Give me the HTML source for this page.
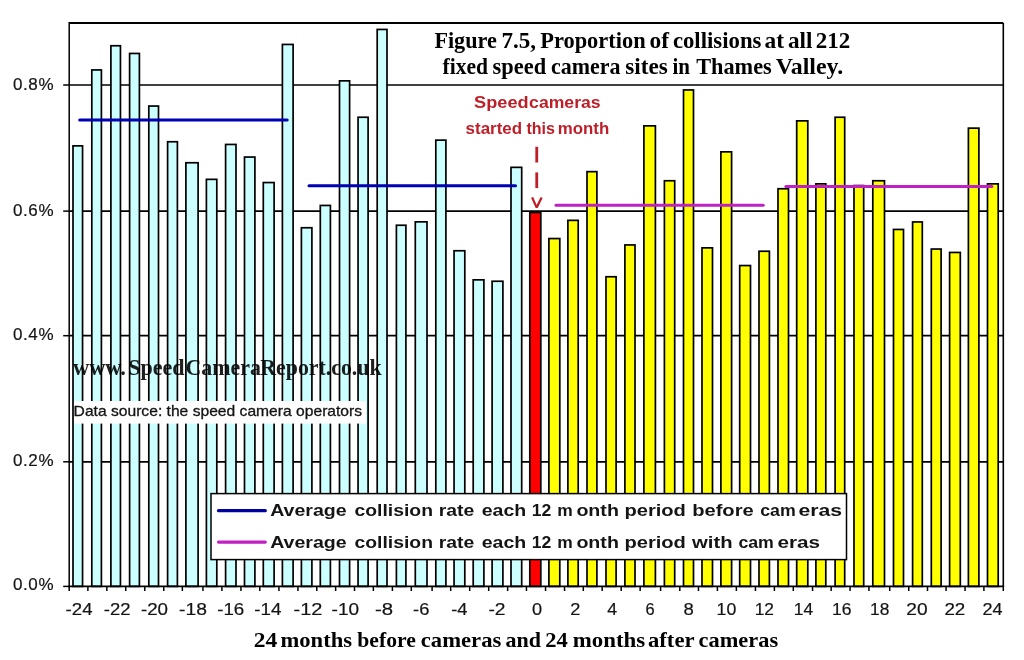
<!DOCTYPE html><html><head><meta charset="utf-8"><style>html,body{margin:0;padding:0;background:#fff;width:1024px;height:660px;overflow:hidden}svg{display:block;will-change:transform}</style></head><body>
<svg width="1024" height="660" viewBox="0 0 1024 660">
<rect x="0" y="0" width="1024" height="660" fill="#fff"/>
<line x1="69.2" y1="461.8" x2="1003.3" y2="461.8" stroke="#000" stroke-width="1.7"/>
<line x1="69.2" y1="335.7" x2="1003.3" y2="335.7" stroke="#000" stroke-width="1.7"/>
<line x1="69.2" y1="211.1" x2="1003.3" y2="211.1" stroke="#000" stroke-width="1.7"/>
<line x1="69.2" y1="85.0" x2="1003.3" y2="85.0" stroke="#000" stroke-width="1.7"/>
<rect x="73.00" y="145.85" width="9.55" height="440.55" fill="#ccffff" stroke="#000" stroke-width="1.7"/>
<rect x="91.80" y="69.95" width="9.60" height="516.45" fill="#ccffff" stroke="#000" stroke-width="1.7"/>
<rect x="110.90" y="45.75" width="9.55" height="540.65" fill="#ccffff" stroke="#000" stroke-width="1.7"/>
<rect x="129.60" y="53.45" width="9.80" height="532.95" fill="#ccffff" stroke="#000" stroke-width="1.7"/>
<rect x="148.80" y="106.05" width="9.70" height="480.35" fill="#ccffff" stroke="#000" stroke-width="1.7"/>
<rect x="167.60" y="141.75" width="9.80" height="444.65" fill="#ccffff" stroke="#000" stroke-width="1.7"/>
<rect x="185.90" y="162.75" width="12.20" height="423.65" fill="#ccffff" stroke="#000" stroke-width="1.7"/>
<rect x="206.40" y="179.35" width="10.40" height="407.05" fill="#ccffff" stroke="#000" stroke-width="1.7"/>
<rect x="225.60" y="144.45" width="10.40" height="441.95" fill="#ccffff" stroke="#000" stroke-width="1.7"/>
<rect x="244.50" y="157.05" width="10.40" height="429.35" fill="#ccffff" stroke="#000" stroke-width="1.7"/>
<rect x="263.30" y="182.55" width="10.80" height="403.85" fill="#ccffff" stroke="#000" stroke-width="1.7"/>
<rect x="282.40" y="44.45" width="10.70" height="541.95" fill="#ccffff" stroke="#000" stroke-width="1.7"/>
<rect x="301.40" y="227.75" width="10.50" height="358.65" fill="#ccffff" stroke="#000" stroke-width="1.7"/>
<rect x="320.30" y="205.45" width="10.10" height="380.95" fill="#ccffff" stroke="#000" stroke-width="1.7"/>
<rect x="339.50" y="80.85" width="10.10" height="505.55" fill="#ccffff" stroke="#000" stroke-width="1.7"/>
<rect x="358.05" y="117.25" width="10.05" height="469.15" fill="#ccffff" stroke="#000" stroke-width="1.7"/>
<rect x="377.20" y="29.45" width="9.80" height="556.95" fill="#ccffff" stroke="#000" stroke-width="1.7"/>
<rect x="396.40" y="225.25" width="9.50" height="361.15" fill="#ccffff" stroke="#000" stroke-width="1.7"/>
<rect x="415.30" y="221.85" width="11.70" height="364.55" fill="#ccffff" stroke="#000" stroke-width="1.7"/>
<rect x="435.80" y="140.15" width="10.10" height="446.25" fill="#ccffff" stroke="#000" stroke-width="1.7"/>
<rect x="454.05" y="250.75" width="10.75" height="335.65" fill="#ccffff" stroke="#000" stroke-width="1.7"/>
<rect x="473.20" y="279.85" width="10.70" height="306.55" fill="#ccffff" stroke="#000" stroke-width="1.7"/>
<rect x="492.10" y="281.25" width="10.80" height="305.15" fill="#ccffff" stroke="#000" stroke-width="1.7"/>
<rect x="511.00" y="167.35" width="10.70" height="419.05" fill="#ccffff" stroke="#000" stroke-width="1.7"/>
<rect x="529.80" y="212.45" width="11.00" height="373.95" fill="#ff0000" stroke="#000" stroke-width="1.7"/>
<rect x="548.90" y="238.55" width="10.90" height="347.85" fill="#ffff00" stroke="#000" stroke-width="1.7"/>
<rect x="567.90" y="220.35" width="10.30" height="366.05" fill="#ffff00" stroke="#000" stroke-width="1.7"/>
<rect x="587.00" y="171.65" width="9.90" height="414.75" fill="#ffff00" stroke="#000" stroke-width="1.7"/>
<rect x="606.00" y="276.75" width="10.10" height="309.65" fill="#ffff00" stroke="#000" stroke-width="1.7"/>
<rect x="624.90" y="244.95" width="10.10" height="341.45" fill="#ffff00" stroke="#000" stroke-width="1.7"/>
<rect x="643.90" y="125.85" width="11.50" height="460.55" fill="#ffff00" stroke="#000" stroke-width="1.7"/>
<rect x="664.40" y="180.75" width="10.30" height="405.65" fill="#ffff00" stroke="#000" stroke-width="1.7"/>
<rect x="683.50" y="89.95" width="10.00" height="496.45" fill="#ffff00" stroke="#000" stroke-width="1.7"/>
<rect x="702.00" y="247.85" width="10.50" height="338.55" fill="#ffff00" stroke="#000" stroke-width="1.7"/>
<rect x="720.90" y="151.85" width="10.70" height="434.55" fill="#ffff00" stroke="#000" stroke-width="1.7"/>
<rect x="739.70" y="265.55" width="10.80" height="320.85" fill="#ffff00" stroke="#000" stroke-width="1.7"/>
<rect x="759.00" y="251.25" width="10.40" height="335.15" fill="#ffff00" stroke="#000" stroke-width="1.7"/>
<rect x="778.00" y="188.75" width="10.50" height="397.65" fill="#ffff00" stroke="#000" stroke-width="1.7"/>
<rect x="796.70" y="120.85" width="11.10" height="465.55" fill="#ffff00" stroke="#000" stroke-width="1.7"/>
<rect x="815.90" y="183.85" width="9.90" height="402.55" fill="#ffff00" stroke="#000" stroke-width="1.7"/>
<rect x="835.10" y="117.25" width="9.60" height="469.15" fill="#ffff00" stroke="#000" stroke-width="1.7"/>
<rect x="854.00" y="185.55" width="9.70" height="400.85" fill="#ffff00" stroke="#000" stroke-width="1.7"/>
<rect x="872.80" y="180.75" width="11.70" height="405.65" fill="#ffff00" stroke="#000" stroke-width="1.7"/>
<rect x="893.50" y="229.45" width="10.00" height="356.95" fill="#ffff00" stroke="#000" stroke-width="1.7"/>
<rect x="912.60" y="221.95" width="9.70" height="364.45" fill="#ffff00" stroke="#000" stroke-width="1.7"/>
<rect x="931.30" y="249.05" width="9.80" height="337.35" fill="#ffff00" stroke="#000" stroke-width="1.7"/>
<rect x="949.60" y="252.45" width="10.70" height="333.95" fill="#ffff00" stroke="#000" stroke-width="1.7"/>
<rect x="968.40" y="128.15" width="10.50" height="458.25" fill="#ffff00" stroke="#000" stroke-width="1.7"/>
<rect x="987.50" y="183.85" width="10.70" height="402.55" fill="#ffff00" stroke="#000" stroke-width="1.7"/>
<line x1="69.2" y1="23.0" x2="1003.3" y2="23.0" stroke="#000" stroke-width="2"/>
<line x1="1003.3" y1="23.0" x2="1003.3" y2="586.4" stroke="#000" stroke-width="1.6"/>
<line x1="69.2" y1="22.0" x2="69.2" y2="587.3" stroke="#000" stroke-width="1.5"/>
<line x1="68.45" y1="586.4" x2="1004.0999999999999" y2="586.4" stroke="#000" stroke-width="1.6"/>
<line x1="63.2" y1="85.0" x2="69.2" y2="85.0" stroke="#000" stroke-width="1.5"/>
<line x1="63.2" y1="211.1" x2="69.2" y2="211.1" stroke="#000" stroke-width="1.5"/>
<line x1="63.2" y1="335.7" x2="69.2" y2="335.7" stroke="#000" stroke-width="1.5"/>
<line x1="63.2" y1="461.8" x2="69.2" y2="461.8" stroke="#000" stroke-width="1.5"/>
<line x1="63.2" y1="586.4" x2="69.2" y2="586.4" stroke="#000" stroke-width="1.5"/>
<line x1="69.20" y1="586.4" x2="69.20" y2="591" stroke="#000" stroke-width="1.5"/>
<line x1="87.88" y1="586.4" x2="87.88" y2="591" stroke="#000" stroke-width="1.5"/>
<line x1="106.85" y1="586.4" x2="106.85" y2="591" stroke="#000" stroke-width="1.5"/>
<line x1="125.73" y1="586.4" x2="125.73" y2="591" stroke="#000" stroke-width="1.5"/>
<line x1="144.80" y1="586.4" x2="144.80" y2="591" stroke="#000" stroke-width="1.5"/>
<line x1="163.75" y1="586.4" x2="163.75" y2="591" stroke="#000" stroke-width="1.5"/>
<line x1="182.35" y1="586.4" x2="182.35" y2="591" stroke="#000" stroke-width="1.5"/>
<line x1="202.95" y1="586.4" x2="202.95" y2="591" stroke="#000" stroke-width="1.5"/>
<line x1="221.90" y1="586.4" x2="221.90" y2="591" stroke="#000" stroke-width="1.5"/>
<line x1="240.95" y1="586.4" x2="240.95" y2="591" stroke="#000" stroke-width="1.5"/>
<line x1="259.80" y1="586.4" x2="259.80" y2="591" stroke="#000" stroke-width="1.5"/>
<line x1="278.95" y1="586.4" x2="278.95" y2="591" stroke="#000" stroke-width="1.5"/>
<line x1="297.95" y1="586.4" x2="297.95" y2="591" stroke="#000" stroke-width="1.5"/>
<line x1="316.80" y1="586.4" x2="316.80" y2="591" stroke="#000" stroke-width="1.5"/>
<line x1="335.65" y1="586.4" x2="335.65" y2="591" stroke="#000" stroke-width="1.5"/>
<line x1="354.53" y1="586.4" x2="354.53" y2="591" stroke="#000" stroke-width="1.5"/>
<line x1="373.35" y1="586.4" x2="373.35" y2="591" stroke="#000" stroke-width="1.5"/>
<line x1="392.40" y1="586.4" x2="392.40" y2="591" stroke="#000" stroke-width="1.5"/>
<line x1="411.30" y1="586.4" x2="411.30" y2="591" stroke="#000" stroke-width="1.5"/>
<line x1="432.10" y1="586.4" x2="432.10" y2="591" stroke="#000" stroke-width="1.5"/>
<line x1="450.68" y1="586.4" x2="450.68" y2="591" stroke="#000" stroke-width="1.5"/>
<line x1="469.70" y1="586.4" x2="469.70" y2="591" stroke="#000" stroke-width="1.5"/>
<line x1="488.70" y1="586.4" x2="488.70" y2="591" stroke="#000" stroke-width="1.5"/>
<line x1="507.65" y1="586.4" x2="507.65" y2="591" stroke="#000" stroke-width="1.5"/>
<line x1="526.45" y1="586.4" x2="526.45" y2="591" stroke="#000" stroke-width="1.5"/>
<line x1="545.55" y1="586.4" x2="545.55" y2="591" stroke="#000" stroke-width="1.5"/>
<line x1="564.55" y1="586.4" x2="564.55" y2="591" stroke="#000" stroke-width="1.5"/>
<line x1="583.30" y1="586.4" x2="583.30" y2="591" stroke="#000" stroke-width="1.5"/>
<line x1="602.15" y1="586.4" x2="602.15" y2="591" stroke="#000" stroke-width="1.5"/>
<line x1="621.20" y1="586.4" x2="621.20" y2="591" stroke="#000" stroke-width="1.5"/>
<line x1="640.15" y1="586.4" x2="640.15" y2="591" stroke="#000" stroke-width="1.5"/>
<line x1="660.60" y1="586.4" x2="660.60" y2="591" stroke="#000" stroke-width="1.5"/>
<line x1="679.80" y1="586.4" x2="679.80" y2="591" stroke="#000" stroke-width="1.5"/>
<line x1="698.45" y1="586.4" x2="698.45" y2="591" stroke="#000" stroke-width="1.5"/>
<line x1="717.40" y1="586.4" x2="717.40" y2="591" stroke="#000" stroke-width="1.5"/>
<line x1="736.35" y1="586.4" x2="736.35" y2="591" stroke="#000" stroke-width="1.5"/>
<line x1="755.45" y1="586.4" x2="755.45" y2="591" stroke="#000" stroke-width="1.5"/>
<line x1="774.40" y1="586.4" x2="774.40" y2="591" stroke="#000" stroke-width="1.5"/>
<line x1="793.30" y1="586.4" x2="793.30" y2="591" stroke="#000" stroke-width="1.5"/>
<line x1="812.55" y1="586.4" x2="812.55" y2="591" stroke="#000" stroke-width="1.5"/>
<line x1="831.15" y1="586.4" x2="831.15" y2="591" stroke="#000" stroke-width="1.5"/>
<line x1="850.05" y1="586.4" x2="850.05" y2="591" stroke="#000" stroke-width="1.5"/>
<line x1="868.95" y1="586.4" x2="868.95" y2="591" stroke="#000" stroke-width="1.5"/>
<line x1="889.70" y1="586.4" x2="889.70" y2="591" stroke="#000" stroke-width="1.5"/>
<line x1="908.75" y1="586.4" x2="908.75" y2="591" stroke="#000" stroke-width="1.5"/>
<line x1="927.50" y1="586.4" x2="927.50" y2="591" stroke="#000" stroke-width="1.5"/>
<line x1="946.05" y1="586.4" x2="946.05" y2="591" stroke="#000" stroke-width="1.5"/>
<line x1="965.05" y1="586.4" x2="965.05" y2="591" stroke="#000" stroke-width="1.5"/>
<line x1="983.90" y1="586.4" x2="983.90" y2="591" stroke="#000" stroke-width="1.5"/>
<line x1="1003.30" y1="586.4" x2="1003.30" y2="591" stroke="#000" stroke-width="1.5"/>
<line x1="79.7" y1="120.1" x2="287.2" y2="120.1" stroke="#0000b4" stroke-width="3" stroke-linecap="round"/>
<line x1="309" y1="185.7" x2="515.5" y2="185.7" stroke="#0000b4" stroke-width="3" stroke-linecap="round"/>
<line x1="556" y1="205.2" x2="763.2" y2="205.2" stroke="#c020c4" stroke-width="3" stroke-linecap="round"/>
<line x1="785.9" y1="186.4" x2="991.9" y2="186.4" stroke="#c020c4" stroke-width="3" stroke-linecap="round"/>
<rect x="535.35" y="146.8" width="2.8" height="15.7" fill="#be1e28"/>
<rect x="535.35" y="172.4" width="2.8" height="15.7" fill="#be1e28"/>
<path d="M532.1 197.4 L536.7 207.6 L541.6 197.4" fill="none" stroke="#be1e28" stroke-width="2.3" stroke-linejoin="bevel"/>
<rect x="74" y="401" width="292" height="22.6" fill="#fff"/>
<rect x="211" y="493.6" width="635.5" height="66" fill="#fff" stroke="#000" stroke-width="1.5"/>
<line x1="218.5" y1="510.7" x2="265.3" y2="510.7" stroke="#00009c" stroke-width="3.2" stroke-linecap="round"/>
<line x1="218.5" y1="542.1" x2="265.3" y2="542.1" stroke="#c020c4" stroke-width="3.2" stroke-linecap="round"/>
<text x="73.60" y="415.6" font-family='"Liberation Sans", sans-serif' font-weight="normal" font-size="14.4" fill="#141414" textLength="288.50" lengthAdjust="spacingAndGlyphs" stroke="#141414" stroke-width="0.3">Data source: the speed camera operators</text>
<text x="434.40" y="48.0" font-family='"Liberation Serif", serif' font-weight="bold" font-size="22.6" fill="#000" textLength="62.50" lengthAdjust="spacingAndGlyphs">Figure</text>
<text x="501.50" y="48.0" font-family='"Liberation Serif", serif' font-weight="bold" font-size="22.6" fill="#000" textLength="34.50" lengthAdjust="spacingAndGlyphs">7.5,</text>
<text x="540.20" y="48.0" font-family='"Liberation Serif", serif' font-weight="bold" font-size="22.6" fill="#000" textLength="105.50" lengthAdjust="spacingAndGlyphs">Proportion</text>
<text x="649.50" y="48.0" font-family='"Liberation Serif", serif' font-weight="bold" font-size="22.6" fill="#000" textLength="19.50" lengthAdjust="spacingAndGlyphs">of</text>
<text x="672.90" y="48.0" font-family='"Liberation Serif", serif' font-weight="bold" font-size="22.6" fill="#000" textLength="88.50" lengthAdjust="spacingAndGlyphs">collisions</text>
<text x="764.50" y="48.0" font-family='"Liberation Serif", serif' font-weight="bold" font-size="22.6" fill="#000" textLength="19.50" lengthAdjust="spacingAndGlyphs">at</text>
<text x="788.00" y="48.0" font-family='"Liberation Serif", serif' font-weight="bold" font-size="22.6" fill="#000" textLength="24.50" lengthAdjust="spacingAndGlyphs">all</text>
<text x="815.70" y="48.0" font-family='"Liberation Serif", serif' font-weight="bold" font-size="22.6" fill="#000" textLength="34.50" lengthAdjust="spacingAndGlyphs">212</text>
<text x="442.60" y="73.7" font-family='"Liberation Serif", serif' font-weight="bold" font-size="22.6" fill="#000" textLength="45.50" lengthAdjust="spacingAndGlyphs">fixed</text>
<text x="492.60" y="73.7" font-family='"Liberation Serif", serif' font-weight="bold" font-size="22.6" fill="#000" textLength="53.50" lengthAdjust="spacingAndGlyphs">speed</text>
<text x="551.10" y="73.7" font-family='"Liberation Serif", serif' font-weight="bold" font-size="22.6" fill="#000" textLength="69.50" lengthAdjust="spacingAndGlyphs">camera</text>
<text x="625.30" y="73.7" font-family='"Liberation Serif", serif' font-weight="bold" font-size="22.6" fill="#000" textLength="42.50" lengthAdjust="spacingAndGlyphs">sites</text>
<text x="672.50" y="73.7" font-family='"Liberation Serif", serif' font-weight="bold" font-size="22.6" fill="#000" textLength="17.50" lengthAdjust="spacingAndGlyphs">in</text>
<text x="696.20" y="73.7" font-family='"Liberation Serif", serif' font-weight="bold" font-size="22.6" fill="#000" textLength="75.50" lengthAdjust="spacingAndGlyphs">Thames</text>
<text x="775.70" y="73.7" font-family='"Liberation Serif", serif' font-weight="bold" font-size="22.6" fill="#000" textLength="67.50" lengthAdjust="spacingAndGlyphs">Valley.</text>
<text x="253.70" y="646.6" font-family='"Liberation Serif", serif' font-weight="bold" font-size="21.8" fill="#000" textLength="23.50" lengthAdjust="spacingAndGlyphs">24</text>
<text x="280.50" y="646.6" font-family='"Liberation Serif", serif' font-weight="bold" font-size="21.8" fill="#000" textLength="71.50" lengthAdjust="spacingAndGlyphs">months</text>
<text x="357.30" y="646.6" font-family='"Liberation Serif", serif' font-weight="bold" font-size="21.8" fill="#000" textLength="58.50" lengthAdjust="spacingAndGlyphs">before</text>
<text x="420.80" y="646.6" font-family='"Liberation Serif", serif' font-weight="bold" font-size="21.8" fill="#000" textLength="80.50" lengthAdjust="spacingAndGlyphs">cameras</text>
<text x="505.40" y="646.6" font-family='"Liberation Serif", serif' font-weight="bold" font-size="21.8" fill="#000" textLength="35.50" lengthAdjust="spacingAndGlyphs">and</text>
<text x="545.20" y="646.6" font-family='"Liberation Serif", serif' font-weight="bold" font-size="21.8" fill="#000" textLength="22.50" lengthAdjust="spacingAndGlyphs">24</text>
<text x="572.70" y="646.6" font-family='"Liberation Serif", serif' font-weight="bold" font-size="21.8" fill="#000" textLength="72.50" lengthAdjust="spacingAndGlyphs">months</text>
<text x="648.00" y="646.6" font-family='"Liberation Serif", serif' font-weight="bold" font-size="21.8" fill="#000" textLength="46.50" lengthAdjust="spacingAndGlyphs">after</text>
<text x="698.60" y="646.6" font-family='"Liberation Serif", serif' font-weight="bold" font-size="21.8" fill="#000" textLength="79.50" lengthAdjust="spacingAndGlyphs">cameras</text>
<text x="72.90" y="374.6" font-family='"Liberation Serif", serif' font-weight="bold" font-size="23" fill="#000" textLength="53.10" lengthAdjust="spacingAndGlyphs" fill-opacity="0.88">www.</text>
<text x="128.20" y="374.6" font-family='"Liberation Serif", serif' font-weight="bold" font-size="23" fill="#000" textLength="56.30" lengthAdjust="spacingAndGlyphs" fill-opacity="0.88">Speed</text>
<text x="185.40" y="374.6" font-family='"Liberation Serif", serif' font-weight="bold" font-size="23" fill="#000" textLength="75.50" lengthAdjust="spacingAndGlyphs" fill-opacity="0.88">Camera</text>
<text x="260.30" y="374.6" font-family='"Liberation Serif", serif' font-weight="bold" font-size="23" fill="#000" textLength="121.30" lengthAdjust="spacingAndGlyphs" fill-opacity="0.88">Report.co.uk</text>
<text x="474.10" y="108.1" font-family='"Liberation Sans", sans-serif' font-weight="bold" font-size="16" fill="#be1e28" textLength="54.50" lengthAdjust="spacingAndGlyphs">Speed</text>
<text x="529.10" y="108.1" font-family='"Liberation Sans", sans-serif' font-weight="bold" font-size="16" fill="#be1e28" textLength="71.50" lengthAdjust="spacingAndGlyphs">cameras</text>
<text x="465.60" y="133.9" font-family='"Liberation Sans", sans-serif' font-weight="bold" font-size="16" fill="#be1e28" textLength="56.50" lengthAdjust="spacingAndGlyphs">started</text>
<text x="526.40" y="133.9" font-family='"Liberation Sans", sans-serif' font-weight="bold" font-size="16" fill="#be1e28" textLength="28.50" lengthAdjust="spacingAndGlyphs">this</text>
<text x="557.75" y="133.9" font-family='"Liberation Sans", sans-serif' font-weight="bold" font-size="16" fill="#be1e28" textLength="51.50" lengthAdjust="spacingAndGlyphs">month</text>
<text x="270.20" y="516.3" font-family='"Liberation Sans", sans-serif' font-weight="bold" font-size="16" fill="#141414" textLength="76.50" lengthAdjust="spacingAndGlyphs">Average</text>
<text x="354.50" y="516.3" font-family='"Liberation Sans", sans-serif' font-weight="bold" font-size="16" fill="#141414" textLength="78.50" lengthAdjust="spacingAndGlyphs">collision</text>
<text x="438.70" y="516.3" font-family='"Liberation Sans", sans-serif' font-weight="bold" font-size="16" fill="#141414" textLength="35.50" lengthAdjust="spacingAndGlyphs">rate</text>
<text x="481.70" y="516.3" font-family='"Liberation Sans", sans-serif' font-weight="bold" font-size="16" fill="#141414" textLength="44.50" lengthAdjust="spacingAndGlyphs">each</text>
<text x="531.80" y="516.3" font-family='"Liberation Sans", sans-serif' font-weight="bold" font-size="16" fill="#141414" textLength="19.50" lengthAdjust="spacingAndGlyphs">12</text>
<text x="557.30" y="516.3" font-family='"Liberation Sans", sans-serif' font-weight="bold" font-size="16" fill="#141414" textLength="15.50" lengthAdjust="spacingAndGlyphs">m</text>
<text x="576.40" y="516.3" font-family='"Liberation Sans", sans-serif' font-weight="bold" font-size="16" fill="#141414" textLength="42.50" lengthAdjust="spacingAndGlyphs">onth</text>
<text x="624.40" y="516.3" font-family='"Liberation Sans", sans-serif' font-weight="bold" font-size="16" fill="#141414" textLength="61.50" lengthAdjust="spacingAndGlyphs">period</text>
<text x="692.20" y="516.3" font-family='"Liberation Sans", sans-serif' font-weight="bold" font-size="16" fill="#141414" textLength="61.50" lengthAdjust="spacingAndGlyphs">before</text>
<text x="760.20" y="516.3" font-family='"Liberation Sans", sans-serif' font-weight="bold" font-size="16" fill="#141414" textLength="35.50" lengthAdjust="spacingAndGlyphs">cam</text>
<text x="798.50" y="516.3" font-family='"Liberation Sans", sans-serif' font-weight="bold" font-size="16" fill="#141414" textLength="43.50" lengthAdjust="spacingAndGlyphs">eras</text>
<text x="270.20" y="547.9" font-family='"Liberation Sans", sans-serif' font-weight="bold" font-size="16" fill="#141414" textLength="76.50" lengthAdjust="spacingAndGlyphs">Average</text>
<text x="354.50" y="547.9" font-family='"Liberation Sans", sans-serif' font-weight="bold" font-size="16" fill="#141414" textLength="78.50" lengthAdjust="spacingAndGlyphs">collision</text>
<text x="438.70" y="547.9" font-family='"Liberation Sans", sans-serif' font-weight="bold" font-size="16" fill="#141414" textLength="35.50" lengthAdjust="spacingAndGlyphs">rate</text>
<text x="481.70" y="547.9" font-family='"Liberation Sans", sans-serif' font-weight="bold" font-size="16" fill="#141414" textLength="44.50" lengthAdjust="spacingAndGlyphs">each</text>
<text x="531.80" y="547.9" font-family='"Liberation Sans", sans-serif' font-weight="bold" font-size="16" fill="#141414" textLength="19.50" lengthAdjust="spacingAndGlyphs">12</text>
<text x="557.30" y="547.9" font-family='"Liberation Sans", sans-serif' font-weight="bold" font-size="16" fill="#141414" textLength="15.50" lengthAdjust="spacingAndGlyphs">m</text>
<text x="576.40" y="547.9" font-family='"Liberation Sans", sans-serif' font-weight="bold" font-size="16" fill="#141414" textLength="42.50" lengthAdjust="spacingAndGlyphs">onth</text>
<text x="624.40" y="547.9" font-family='"Liberation Sans", sans-serif' font-weight="bold" font-size="16" fill="#141414" textLength="61.50" lengthAdjust="spacingAndGlyphs">period</text>
<text x="692.10" y="547.9" font-family='"Liberation Sans", sans-serif' font-weight="bold" font-size="16" fill="#141414" textLength="40.50" lengthAdjust="spacingAndGlyphs">with</text>
<text x="738.40" y="547.9" font-family='"Liberation Sans", sans-serif' font-weight="bold" font-size="16" fill="#141414" textLength="35.50" lengthAdjust="spacingAndGlyphs">cam</text>
<text x="777.40" y="547.9" font-family='"Liberation Sans", sans-serif' font-weight="bold" font-size="16" fill="#141414" textLength="42.50" lengthAdjust="spacingAndGlyphs">eras</text>
<text x="13.00" y="590.4" font-family='"Liberation Sans", sans-serif' font-weight="normal" font-size="17" fill="#141414" textLength="40.50" lengthAdjust="spacing" stroke="#141414" stroke-width="0.2">0.0%</text>
<text x="13.00" y="466.0" font-family='"Liberation Sans", sans-serif' font-weight="normal" font-size="17" fill="#141414" textLength="40.50" lengthAdjust="spacing" stroke="#141414" stroke-width="0.2">0.2%</text>
<text x="13.00" y="340.4" font-family='"Liberation Sans", sans-serif' font-weight="normal" font-size="17" fill="#141414" textLength="40.50" lengthAdjust="spacing" stroke="#141414" stroke-width="0.2">0.4%</text>
<text x="13.00" y="216.29999999999998" font-family='"Liberation Sans", sans-serif' font-weight="normal" font-size="17" fill="#141414" textLength="40.50" lengthAdjust="spacing" stroke="#141414" stroke-width="0.2">0.6%</text>
<text x="13.00" y="90.0" font-family='"Liberation Sans", sans-serif' font-weight="normal" font-size="17" fill="#141414" textLength="40.50" lengthAdjust="spacing" stroke="#141414" stroke-width="0.2">0.8%</text>
<text x="65.64" y="615.4" font-family='"Liberation Sans", sans-serif' font-weight="normal" font-size="16.6" fill="#141414" textLength="26.90" lengthAdjust="spacingAndGlyphs" stroke="#141414" stroke-width="0.2">-24</text>
<text x="103.78" y="615.4" font-family='"Liberation Sans", sans-serif' font-weight="normal" font-size="16.6" fill="#141414" textLength="26.70" lengthAdjust="spacingAndGlyphs" stroke="#141414" stroke-width="0.2">-22</text>
<text x="140.92" y="615.4" font-family='"Liberation Sans", sans-serif' font-weight="normal" font-size="16.6" fill="#141414" textLength="27.10" lengthAdjust="spacingAndGlyphs" stroke="#141414" stroke-width="0.2">-20</text>
<text x="179.06" y="615.4" font-family='"Liberation Sans", sans-serif' font-weight="normal" font-size="16.6" fill="#141414" textLength="27.90" lengthAdjust="spacingAndGlyphs" stroke="#141414" stroke-width="0.2">-18</text>
<text x="217.21" y="615.4" font-family='"Liberation Sans", sans-serif' font-weight="normal" font-size="16.6" fill="#141414" textLength="27.10" lengthAdjust="spacingAndGlyphs" stroke="#141414" stroke-width="0.2">-16</text>
<text x="254.35" y="615.4" font-family='"Liberation Sans", sans-serif' font-weight="normal" font-size="16.6" fill="#141414" textLength="27.10" lengthAdjust="spacingAndGlyphs" stroke="#141414" stroke-width="0.2">-14</text>
<text x="293.49" y="615.4" font-family='"Liberation Sans", sans-serif' font-weight="normal" font-size="16.6" fill="#141414" textLength="28.90" lengthAdjust="spacingAndGlyphs" stroke="#141414" stroke-width="0.2">-12</text>
<text x="331.64" y="615.4" font-family='"Liberation Sans", sans-serif' font-weight="normal" font-size="16.6" fill="#141414" textLength="27.50" lengthAdjust="spacingAndGlyphs" stroke="#141414" stroke-width="0.2">-10</text>
<text x="374.98" y="615.4" font-family='"Liberation Sans", sans-serif' font-weight="normal" font-size="16.6" fill="#141414" textLength="18.10" lengthAdjust="spacingAndGlyphs" stroke="#141414" stroke-width="0.2">-8</text>
<text x="413.12" y="615.4" font-family='"Liberation Sans", sans-serif' font-weight="normal" font-size="16.6" fill="#141414" textLength="16.30" lengthAdjust="spacingAndGlyphs" stroke="#141414" stroke-width="0.2">-6</text>
<text x="451.26" y="615.4" font-family='"Liberation Sans", sans-serif' font-weight="normal" font-size="16.6" fill="#141414" textLength="16.30" lengthAdjust="spacingAndGlyphs" stroke="#141414" stroke-width="0.2">-4</text>
<text x="488.41" y="615.4" font-family='"Liberation Sans", sans-serif' font-weight="normal" font-size="16.6" fill="#141414" textLength="17.10" lengthAdjust="spacingAndGlyphs" stroke="#141414" stroke-width="0.2">-2</text>
<text x="532.05" y="615.4" font-family='"Liberation Sans", sans-serif' font-weight="normal" font-size="16.6" fill="#141414" textLength="10.10" lengthAdjust="spacingAndGlyphs" stroke="#141414" stroke-width="0.2">0</text>
<text x="570.19" y="615.4" font-family='"Liberation Sans", sans-serif' font-weight="normal" font-size="16.6" fill="#141414" textLength="10.10" lengthAdjust="spacingAndGlyphs" stroke="#141414" stroke-width="0.2">2</text>
<text x="607.34" y="615.4" font-family='"Liberation Sans", sans-serif' font-weight="normal" font-size="16.6" fill="#141414" textLength="9.90" lengthAdjust="spacingAndGlyphs" stroke="#141414" stroke-width="0.2">4</text>
<text x="645.48" y="615.4" font-family='"Liberation Sans", sans-serif' font-weight="normal" font-size="16.6" fill="#141414" textLength="9.10" lengthAdjust="spacingAndGlyphs" stroke="#141414" stroke-width="0.2">6</text>
<text x="683.62" y="615.4" font-family='"Liberation Sans", sans-serif' font-weight="normal" font-size="16.6" fill="#141414" textLength="10.30" lengthAdjust="spacingAndGlyphs" stroke="#141414" stroke-width="0.2">8</text>
<text x="716.56" y="615.4" font-family='"Liberation Sans", sans-serif' font-weight="normal" font-size="16.6" fill="#141414" textLength="19.70" lengthAdjust="spacingAndGlyphs" stroke="#141414" stroke-width="0.2">10</text>
<text x="754.71" y="615.4" font-family='"Liberation Sans", sans-serif' font-weight="normal" font-size="16.6" fill="#141414" textLength="19.30" lengthAdjust="spacingAndGlyphs" stroke="#141414" stroke-width="0.2">12</text>
<text x="793.85" y="615.4" font-family='"Liberation Sans", sans-serif' font-weight="normal" font-size="16.6" fill="#141414" textLength="19.30" lengthAdjust="spacingAndGlyphs" stroke="#141414" stroke-width="0.2">14</text>
<text x="831.99" y="615.4" font-family='"Liberation Sans", sans-serif' font-weight="normal" font-size="16.6" fill="#141414" textLength="19.50" lengthAdjust="spacingAndGlyphs" stroke="#141414" stroke-width="0.2">16</text>
<text x="870.14" y="615.4" font-family='"Liberation Sans", sans-serif' font-weight="normal" font-size="16.6" fill="#141414" textLength="19.30" lengthAdjust="spacingAndGlyphs" stroke="#141414" stroke-width="0.2">18</text>
<text x="906.28" y="615.4" font-family='"Liberation Sans", sans-serif' font-weight="normal" font-size="16.6" fill="#141414" textLength="21.30" lengthAdjust="spacingAndGlyphs" stroke="#141414" stroke-width="0.2">20</text>
<text x="944.42" y="615.4" font-family='"Liberation Sans", sans-serif' font-weight="normal" font-size="16.6" fill="#141414" textLength="20.90" lengthAdjust="spacingAndGlyphs" stroke="#141414" stroke-width="0.2">22</text>
<text x="982.56" y="615.4" font-family='"Liberation Sans", sans-serif' font-weight="normal" font-size="16.6" fill="#141414" textLength="20.10" lengthAdjust="spacingAndGlyphs" stroke="#141414" stroke-width="0.2">24</text>
</svg></body></html>
